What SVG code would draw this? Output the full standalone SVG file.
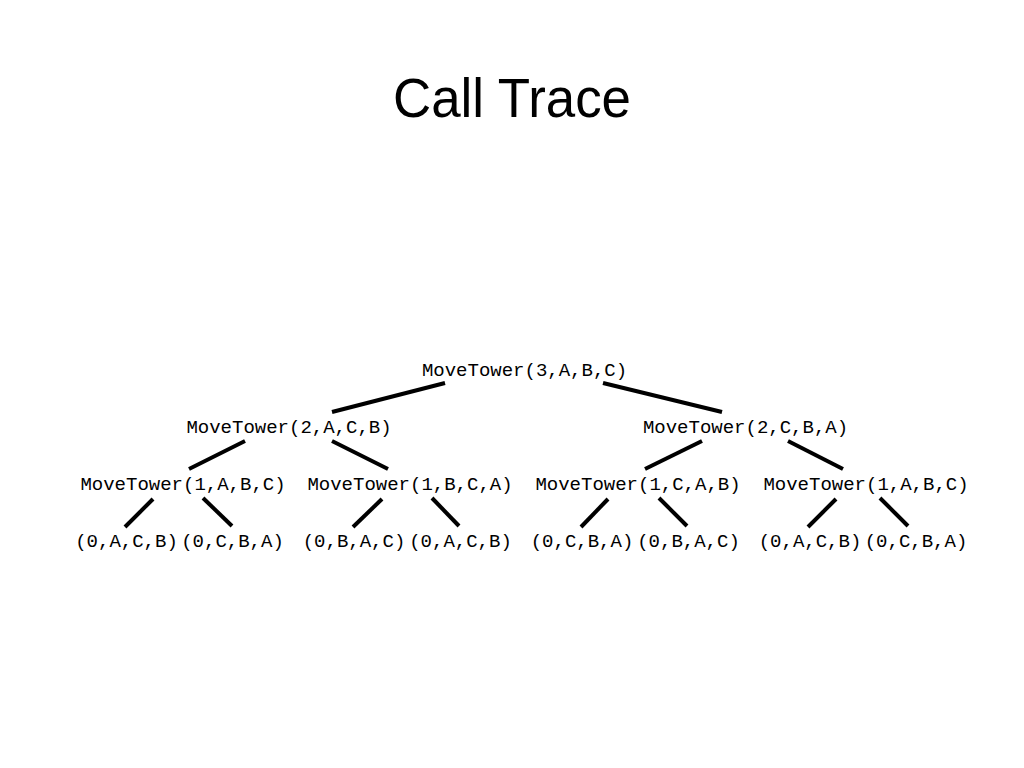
<svg xmlns="http://www.w3.org/2000/svg" width="1024" height="768" viewBox="0 0 1024 768">
<style>
.t{font-family:"Liberation Mono","Courier New",monospace;font-size:19px;fill:#000;text-anchor:middle}
.title{font-family:"Liberation Sans",Arial,sans-serif;font-size:56px;fill:#000;text-anchor:middle}
.e line{stroke:#000;stroke-width:4;stroke-linecap:butt}
</style>
<rect width="1024" height="768" fill="#fff"/>
<text class="title" x="512" y="117" textLength="238" lengthAdjust="spacingAndGlyphs">Call Trace</text>
<g class="e" id="connectors">
<line x1="445" y1="383" x2="332" y2="412"/>
<line x1="603" y1="383" x2="722" y2="412"/>
<line x1="245" y1="441" x2="189" y2="469"/>
<line x1="332" y1="441" x2="388" y2="469"/>
<line x1="702" y1="441" x2="645" y2="469"/>
<line x1="788" y1="441" x2="843" y2="469"/>
<line x1="153" y1="499" x2="125" y2="527"/>
<line x1="203" y1="498" x2="232" y2="526"/>
<line x1="382" y1="499" x2="353" y2="527"/>
<line x1="432" y1="498" x2="459" y2="526"/>
<line x1="608" y1="499" x2="581" y2="527"/>
<line x1="659" y1="498" x2="687" y2="526"/>
<line x1="836" y1="499" x2="808" y2="527"/>
<line x1="880" y1="498" x2="908" y2="526"/>
</g>
<g id="n_root"><text class="t" x="524.5" y="376">MoveTower(3,A,B,C)</text></g>
<g id="n_2acb"><text class="t" x="289" y="433">MoveTower(2,A,C,B)</text></g>
<g id="n_2cba"><text class="t" x="745.5" y="433">MoveTower(2,C,B,A)</text></g>
<g id="n_1abc_a"><text class="t" x="183" y="490">MoveTower(1,A,B,C)</text></g>
<g id="n_1bca"><text class="t" x="410" y="490">MoveTower(1,B,C,A)</text></g>
<g id="n_1cab"><text class="t" x="638" y="490">MoveTower(1,C,A,B)</text></g>
<g id="n_1abc_b"><text class="t" x="866" y="490">MoveTower(1,A,B,C)</text></g>
<g id="l1"><text class="t" x="126.5" y="547">(0,A,C,B)</text></g>
<g id="l2"><text class="t" x="232.5" y="547">(0,C,B,A)</text></g>
<g id="l3"><text class="t" x="354" y="547">(0,B,A,C)</text></g>
<g id="l4"><text class="t" x="460.5" y="547">(0,A,C,B)</text></g>
<g id="l5"><text class="t" x="582" y="547">(0,C,B,A)</text></g>
<g id="l6"><text class="t" x="688.5" y="547">(0,B,A,C)</text></g>
<g id="l7"><text class="t" x="810" y="547">(0,A,C,B)</text></g>
<g id="l8"><text class="t" x="916" y="547">(0,C,B,A)</text></g>
</svg>
